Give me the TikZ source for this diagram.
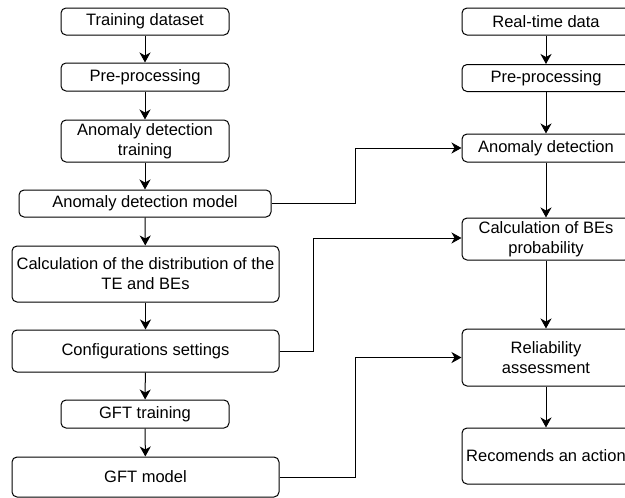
\documentclass[tikz,border=0pt]{standalone}
\usepackage{fontspec}
\setmainfont{Liberation Sans}
\usetikzlibrary{arrows.meta}
\begin{document}
\begin{tikzpicture}[x=1pt,y=-1pt,
 box/.style={draw, rounded corners=5pt, line width=1pt, align=center, font=\fontsize{16.5}{20}\selectfont, inner sep=0pt},
 arr/.style={line width=1pt, -{Stealth[length=10pt,width=11pt,inset=3pt]}}]
\useasboundingbox (0,0) rectangle (625,498);
% left column
\node[box, minimum width=168pt, minimum height=27pt] (td) at (145,21.5) {Training dataset};
\node[box, minimum width=168pt, minimum height=28pt] (ppl) at (145,77) {Pre-processing};
\node[box, minimum width=168pt, minimum height=42pt] (adt) at (145,141) {Anomaly detection\\training};
\node[box, minimum width=252pt, minimum height=27pt] (adm) at (145,203.5) {Anomaly detection model};
\node[box, minimum width=267pt, minimum height=56pt] (cd) at (145.5,274) {Calculation of the distribution of the\\TE and BEs};
\node[box, minimum width=267pt, minimum height=42pt] (cs) at (145.5,351) {Configurations settings};
\node[box, minimum width=168pt, minimum height=28pt] (gt) at (145,414) {GFT training};
\node[box, minimum width=267pt, minimum height=40pt] (gm) at (145.5,477) {GFT model};
% right column
\node[box, minimum width=168pt, minimum height=27pt] (rt) at (546,21.5) {Real-time data};
\node[box, minimum width=168pt, minimum height=27pt] (ppr) at (546,78) {Pre-processing};
\node[box, minimum width=168pt, minimum height=28pt] (ad) at (546,148) {Anomaly detection};
\node[box, minimum width=168pt, minimum height=42pt] (cb) at (546,239) {Calculation of BEs\\probability};
\node[box, minimum width=168pt, minimum height=57pt] (ra) at (546,357.5) {Reliability\\assessment};
\node[box, minimum width=168pt, minimum height=56pt] (ac) at (546,456) {Recomends an action};
% vertical arrows
\draw[arr] (td) -- (ppl);
\draw[arr] (ppl) -- (adt);
\draw[arr] (adt) -- (adm);
\draw[arr] (adm) -- (cd);
\draw[arr] (cd) -- (cs);
\draw[arr] (cs) -- (gt);
\draw[arr] (gt) -- (gm);
\draw[arr] (rt) -- (ppr);
\draw[arr] (ppr) -- (ad);
\draw[arr] (ad) -- (cb);
\draw[arr] (cb) -- (ra);
\draw[arr] (ra) -- (ac);
% cross connectors
\draw[arr] (adm.east) -- (355,203.5) -- (355,148) -- (ad.west);
\draw[arr] (cs.east) -- (313,351) -- (313,238) -- (cb.west |- 0,238);
\draw[arr] (gm.east) -- (355,477) -- (355,357.5) -- (ra.west);
\end{tikzpicture}
\end{document}
